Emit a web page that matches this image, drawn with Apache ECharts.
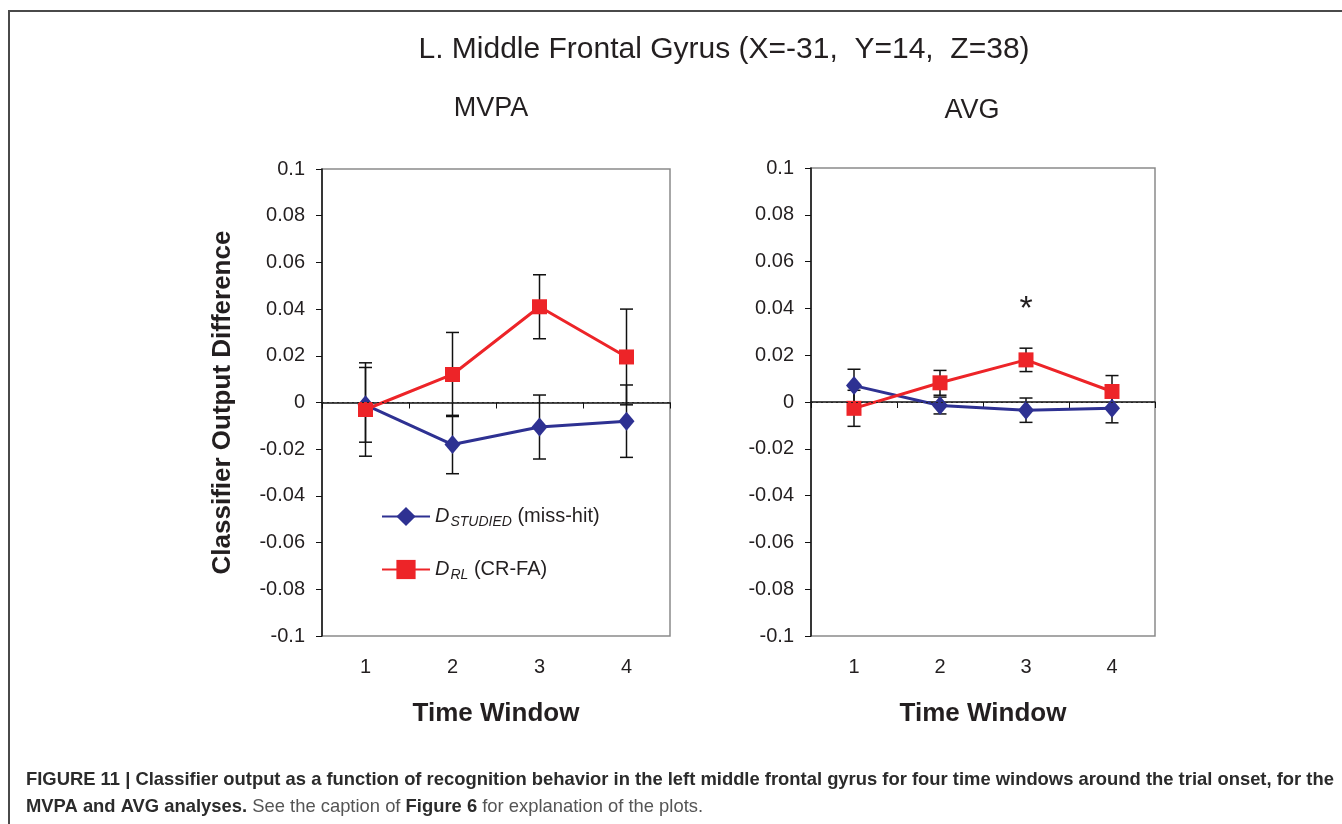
<!DOCTYPE html>
<html>
<head>
<meta charset="utf-8">
<script src="https://cdn.jsdelivr.net/npm/echarts@6/dist/echarts.min.js"></script>
<style>
  html, body { margin: 0; padding: 0; background: #fff; }
  #main { width: 1342px; height: 824px; }
</style>
</head>
<body>
<div id="main"></div>
<script>
// time windows
var categories = ['1', '2', '3', '4'];
var yMin = -0.1, yMax = 0.1, yStep = 0.02;

// MVPA panel
var mvpaStudied = [-0.001, -0.018, -0.0105, -0.008];
var mvpaStudiedErr = [0.016, 0.0125, 0.0137, 0.0155];
var mvpaRL = [-0.003, 0.012, 0.041, 0.0195];
var mvpaRLErr = [0.020, 0.018, 0.0137, 0.0205];

// AVG panel
var avgStudied = [0.007, -0.0015, -0.0035, -0.0027];
var avgStudiedErr = [0.007, 0.0036, 0.0052, 0.0062];
var avgRL = [-0.0027, 0.0082, 0.018, 0.0045];
var avgRLErr = [0.0077, 0.0053, 0.005, 0.0068];

// significance marks (AVG panel)
var sigCats = ['3'];
var sigLevel = 0.0395;

var BLUE = '#2e3192';
var RED = '#ed2428';
var TXT = '#231f20';
var ARIAL = '"Liberation Sans", Arial, sans-serif';

var myChart = echarts.init(document.getElementById('main'));

function errData(vals, errs) {
    return vals.map(function (v, i) { return [i, v - errs[i], v + errs[i]]; });
}

function errRender(params, api) {
    var lo = api.coord([api.value(0), api.value(1)]);
    var hi = api.coord([api.value(0), api.value(2)]);
    var w = 6.5;
    var st = { stroke: '#111', lineWidth: 1.5 };
    return {
        type: 'group',
        children: [
            { type: 'line', shape: { x1: lo[0], y1: lo[1], x2: hi[0], y2: hi[1] }, style: st },
            { type: 'line', shape: { x1: lo[0] - w, y1: lo[1], x2: lo[0] + w, y2: lo[1] }, style: st },
            { type: 'line', shape: { x1: hi[0] - w, y1: hi[1], x2: hi[0] + w, y2: hi[1] }, style: st }
        ]
    };
}

function fmt(v) {
    return String(parseFloat(v.toFixed(2)));
}

function xAxisFor(idx) {
    return {
        type: 'category',
        gridIndex: idx,
        data: categories,
        boundaryGap: true,
        name: 'Time Window',
        nameLocation: 'middle',
        nameGap: 65,
        nameTextStyle: { fontFamily: ARIAL, fontWeight: 'bold', fontSize: 26, color: TXT },
        axisLine: { lineStyle: { color: '#111', width: 1.5 } },
        axisTick: { show: true, inside: false, length: 6, alignWithLabel: false, lineStyle: { color: '#111' } },
        axisLabel: { fontFamily: ARIAL, fontSize: 20, color: TXT, margin: 21 },
        splitLine: { show: false }
    };
}

function yAxisFor(idx, withName) {
    var ax = {
        type: 'value',
        gridIndex: idx,
        min: yMin,
        max: yMax,
        interval: yStep,
        axisLine: { show: true, lineStyle: { color: '#111', width: 1.5 } },
        axisTick: { show: true, inside: false, length: 6, lineStyle: { color: '#111' } },
        axisLabel: { fontFamily: ARIAL, fontSize: 20, color: TXT, margin: 17, formatter: fmt },
        splitLine: { show: false }
    };
    if (withName) {
        ax.name = 'Classifier Output Difference';
        ax.nameLocation = 'middle';
        ax.nameGap = 86;
        ax.nameTextStyle = { fontFamily: ARIAL, fontWeight: 'bold', fontSize: 26, color: TXT };
    }
    return ax;
}

var zeroLine = {
    silent: true,
    symbol: 'none',
    label: { show: false },
    lineStyle: { color: '#222', type: [2, 3], width: 1 },
    data: [{ yAxis: 0 }]
};

function lineSeries(name, idx, vals, color, symbol, size, extra) {
    var s = {
        name: name,
        type: 'line',
        xAxisIndex: idx,
        yAxisIndex: idx,
        data: vals,
        symbol: symbol,
        symbolSize: size,
        z: 4,
        itemStyle: { color: color },
        lineStyle: { color: color, width: 3 }
    };
    if (extra) for (var k in extra) s[k] = extra[k];
    return s;
}

function errSeries(idx, vals, errs) {
    return {
        type: 'custom',
        xAxisIndex: idx,
        yAxisIndex: idx,
        data: errData(vals, errs),
        encode: { x: 0, y: [1, 2] },
        renderItem: errRender,
        z: 3,
        silent: true
    };
}

var NAME1 = 'studied';
var NAME2 = 'rl';

var option = {
    animation: false,
    title: [
        { text: 'L. Middle Frontal Gyrus (X=-31,  Y=14,  Z=38)', left: 719, top: 30, textAlign: 'center',
          textStyle: { fontFamily: ARIAL, fontWeight: 'normal', fontSize: 30, color: TXT } },
        { text: 'MVPA', left: 486, top: 90, textAlign: 'center',
          textStyle: { fontFamily: ARIAL, fontWeight: 'normal', fontSize: 27, color: TXT } },
        { text: 'AVG', left: 967, top: 92, textAlign: 'center',
          textStyle: { fontFamily: ARIAL, fontWeight: 'normal', fontSize: 27, color: TXT } }
    ],
    legend: {
        left: 376,
        top: 499,
        orient: 'vertical',
        itemWidth: 48,
        itemHeight: 24,
        itemGap: 28,
        data: [NAME1, NAME2],
        formatter: function (n) {
            return n === NAME1
                ? '{d|D}{s|STUDIED}{t| (miss-hit)}'
                : '{d|D}{s|RL}{t| (CR-FA)}';
        },
        textStyle: {
            color: TXT,
            rich: {
                d: { fontFamily: ARIAL, fontStyle: 'italic', fontSize: 20, color: TXT, lineHeight: 24 },
                s: { fontFamily: ARIAL, fontStyle: 'italic', fontSize: 14, color: TXT, padding: [11, 0, 0, 1], lineHeight: 24 },
                t: { fontFamily: ARIAL, fontSize: 20, color: TXT, lineHeight: 24 }
            }
        }
    },
    grid: [
        { left: 322, top: 169, width: 348, height: 467, show: true, borderColor: '#8a8a8a', borderWidth: 1.5 },
        { left: 811, top: 168, width: 344, height: 468, show: true, borderColor: '#8a8a8a', borderWidth: 1.5 }
    ],
    xAxis: [xAxisFor(0), xAxisFor(1)],
    yAxis: [yAxisFor(0, true), yAxisFor(1, false)],
    graphic: [
        { type: 'polyline', shape: { points: [[9, 824], [9, 11], [1342, 11]] },
          style: { stroke: '#4a4a4a', lineWidth: 2, fill: null } },
        { type: 'text', left: 26, top: 771,
          style: { text: 'FIGURE 11 | Classifier output as a function of recognition behavior in the left middle frontal gyrus for four time windows around the trial onset, for the',
                   font: 'bold 18.4px ' + ARIAL, fill: '#2b2b2b' } },
        { type: 'text', left: 26, top: 798,
          style: { text: '{b|MVPA and AVG analyses.}{r| See the caption of }{b|Figure 6}{r| for explanation of the plots.}',
                   rich: {
                       b: { font: 'bold 18.4px ' + ARIAL, fill: '#2b2b2b' },
                       r: { font: '18.4px ' + ARIAL, fill: '#555' }
                   } } }
    ],
    series: [
        errSeries(0, mvpaStudied, mvpaStudiedErr),
        errSeries(0, mvpaRL, mvpaRLErr),
        lineSeries(NAME1, 0, mvpaStudied, BLUE, 'diamond', [16, 19], { markLine: zeroLine }),
        lineSeries(NAME2, 0, mvpaRL, RED, 'rect', 15),
        errSeries(1, avgStudied, avgStudiedErr),
        errSeries(1, avgRL, avgRLErr),
        lineSeries(NAME1, 1, avgStudied, BLUE, 'diamond', [16, 19], { markLine: zeroLine }),
        lineSeries(NAME2, 1, avgRL, RED, 'rect', 15, {
            markPoint: {
                symbol: 'circle',
                symbolSize: 1,
                itemStyle: { color: 'rgba(0,0,0,0)' },
                label: { show: true, position: 'inside', formatter: '*', fontFamily: ARIAL, fontSize: 34, color: TXT },
                data: sigCats.map(function (c) { return { coord: [c, sigLevel] }; })
            }
        })
    ]
};

myChart.setOption(option);
</script>
</body>
</html>
